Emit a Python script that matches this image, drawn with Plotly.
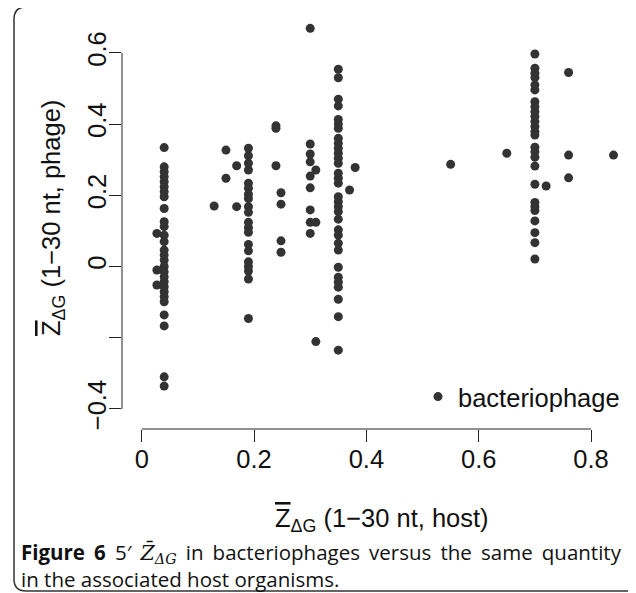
import plotly.graph_objects as go

# ---- data (host Z vs phage Z) ----
host_a = 0.04
phage_a = [0.334, 0.28, 0.266, 0.252, 0.238, 0.224, 0.21, 0.196, 0.163, 0.126, 0.112,
           0.088, 0.07, 0.046, 0.032, 0.018, 0.0, -0.015, -0.029, -0.043, -0.057, -0.071,
           -0.085, -0.099, -0.136, -0.167, -0.31, -0.336]
host_b = 0.027
phage_b = [0.093, -0.01, -0.052]
host_c = 0.19
phage_c = [0.332, 0.311, 0.29, 0.271, 0.234, 0.22, 0.203, 0.191, 0.168, 0.152, 0.124,
           0.109, 0.096, 0.062, 0.044, 0.013, 0.0, -0.013, -0.035, -0.146]
host_misc = [0.15, 0.169, 0.15, 0.129, 0.169, 0.239, 0.239, 0.239, 0.248, 0.248, 0.248, 0.248,
             0.31, 0.31, 0.31, 0.37, 0.38, 0.55, 0.65, 0.72, 0.76, 0.76, 0.76, 0.84]
phage_misc = [0.327, 0.283, 0.248, 0.17, 0.168, 0.395, 0.388, 0.283, 0.207, 0.175, 0.072, 0.04,
              0.271, 0.124, -0.211, 0.215, 0.278, 0.287, 0.318, 0.226, 0.545, 0.313, 0.249, 0.313]
host_d = 0.30
phage_d = [0.669, 0.344, 0.316, 0.294, 0.254, 0.221, 0.159, 0.124, 0.093]
host_e = 0.35
phage_e = [0.554, 0.53, 0.47, 0.451, 0.413, 0.4, 0.388, 0.36, 0.346, 0.332, 0.318, 0.304,
           0.29, 0.262, 0.248, 0.234, 0.196, 0.182, 0.168, 0.154, 0.133, 0.103, 0.088,
           0.065, 0.046, -0.002, -0.03, -0.044, -0.058, -0.092, -0.141, -0.235]
host_f = 0.70
phage_f = [0.597, 0.557, 0.543, 0.531, 0.51, 0.496, 0.463, 0.449, 0.435, 0.421, 0.407,
           0.393, 0.379, 0.369, 0.335, 0.322, 0.307, 0.282, 0.231, 0.18, 0.168, 0.157,
           0.128, 0.095, 0.067, 0.021]

x_ticks = [0, 0.2, 0.4, 0.6, 0.8]
x_ticklabels = ["0", "0.2", "0.4", "0.6", "0.8"]
y_ticks = [-0.4, -0.2, 0, 0.2, 0.4, 0.6]
y_ticklabels = ["\u22120.4", "", "0", "0.2", "0.4", "0.6"]
series_name = "bacteriophage"

xs, ys = [], []
for hx, py in [(host_a, phage_a), (host_b, phage_b), (host_c, phage_c),
               (host_d, phage_d), (host_e, phage_e), (host_f, phage_f)]:
    xs += [hx] * len(py)
    ys += py
xs += host_misc
ys += phage_misc

# ---- layout geometry (pixels, page has an 8px body margin) ----
OFF = 8
W, H = 636 - OFF, 593 - OFF
L, R, T, B = 122 - OFF, 0, 17 - OFF, 164
PW, PH = W - L - R, H - T - B


def px(x):
    return (x - OFF - L) / PW


def py_(y):
    return (H - B - (y - OFF)) / PH


FONT = "Liberation Sans, Arial, sans-serif"
FS = 25.5
INK = "#222222"
DOT = "#333333"

fig = go.Figure()
fig.add_trace(go.Scatter(x=xs, y=ys, mode="markers", name=series_name,
                         marker=dict(size=9, color=DOT, line=dict(width=0))))

# frame with rounded corners
l, t, r, b, rad = 14, 7, 641, 591, 12
path = (f"M {px(l+rad)} {py_(t)} L {px(r-rad)} {py_(t)} Q {px(r)} {py_(t)} {px(r)} {py_(t+rad)} "
        f"L {px(r)} {py_(b-rad)} Q {px(r)} {py_(b)} {px(r-rad)} {py_(b)} "
        f"L {px(l+rad)} {py_(b)} Q {px(l)} {py_(b)} {px(l)} {py_(b-rad)} "
        f"L {px(l)} {py_(t+rad)} Q {px(l)} {py_(t)} {px(l+rad)} {py_(t)} Z")
shapes = [
    dict(type="path", xref="paper", yref="paper", path=path,
         line=dict(color="#333333", width=1.5)),
    dict(type="line", xref="x", yref="paper", x0=x_ticks[0], x1=x_ticks[-1], y0=0, y1=0,
         line=dict(color=INK, width=1)),
    dict(type="line", xref="paper", yref="y", x0=0, x1=0, y0=y_ticks[0], y1=y_ticks[-1],
         line=dict(color=INK, width=1)),
]

zbar = "<span style=\"text-decoration:overline\">Z</span>"
caption = ("<span style=\"word-spacing:3.8px\"><b>Figure 6</b> 5\u2032 "
           "<span style=\"font-family:'DejaVu Serif'\"><i>Z\u0304</i>"
           "<sub><i>\u0394G</i></sub></span> in bacteriophages versus the same quantity</span>"
           "<br>in the associated host organisms.")
annotations = [
    dict(xref="paper", yref="paper", x=px(382), y=py_(520), xanchor="center", yanchor="middle",
         text=f"{zbar}<sub>\u0394G</sub> (1\u221230 nt, host)", showarrow=False,
         font=dict(family=FONT, size=FS, color="#111")),
    dict(xref="paper", yref="paper", x=px(53), y=py_(218), xanchor="center", yanchor="middle",
         text=f"{zbar}<sub>\u0394G</sub> (1\u221230 nt, phage)", showarrow=False, textangle=-90,
         font=dict(family=FONT, size=FS, color="#111")),
    dict(xref="paper", yref="paper", x=px(19), y=py_(565), xanchor="left", yanchor="middle",
         align="left", text=caption, showarrow=False,
         font=dict(family="Open Sans, sans-serif", size=20.5, color="#111")),
]

fig.update_layout(
    width=W, height=H, margin=dict(l=L, r=R, t=T, b=B, pad=0),
    paper_bgcolor="white", plot_bgcolor="white",
    font=dict(family=FONT, size=FS, color="#111"),
    shapes=shapes, annotations=annotations,
    showlegend=True,
    legend=dict(x=px(418), y=py_(397), xanchor="left", yanchor="middle",
                bgcolor="rgba(0,0,0,0)", font=dict(family=FONT, size=FS, color="#111"),
                borderwidth=0),
    xaxis=dict(range=[-0.0351, 0.880], tickvals=x_ticks, ticktext=x_ticklabels,
               ticks="outside", ticklen=12, tickwidth=1, tickcolor=INK,
               ticklabelstandoff=-5,
               showgrid=False, zeroline=False, showline=False,
               tickfont=dict(family=FONT, size=FS, color="#111")),
    yaxis=dict(range=[-0.4565, 0.7008], tickvals=y_ticks, ticktext=y_ticklabels,
               ticks="outside", ticklen=12, tickwidth=1, tickcolor=INK, tickangle=-90,
               ticklabelstandoff=-7,
               showgrid=False, zeroline=False, showline=False,
               tickfont=dict(family=FONT, size=FS, color="#111")),
)

fig.write_html("out.html")
